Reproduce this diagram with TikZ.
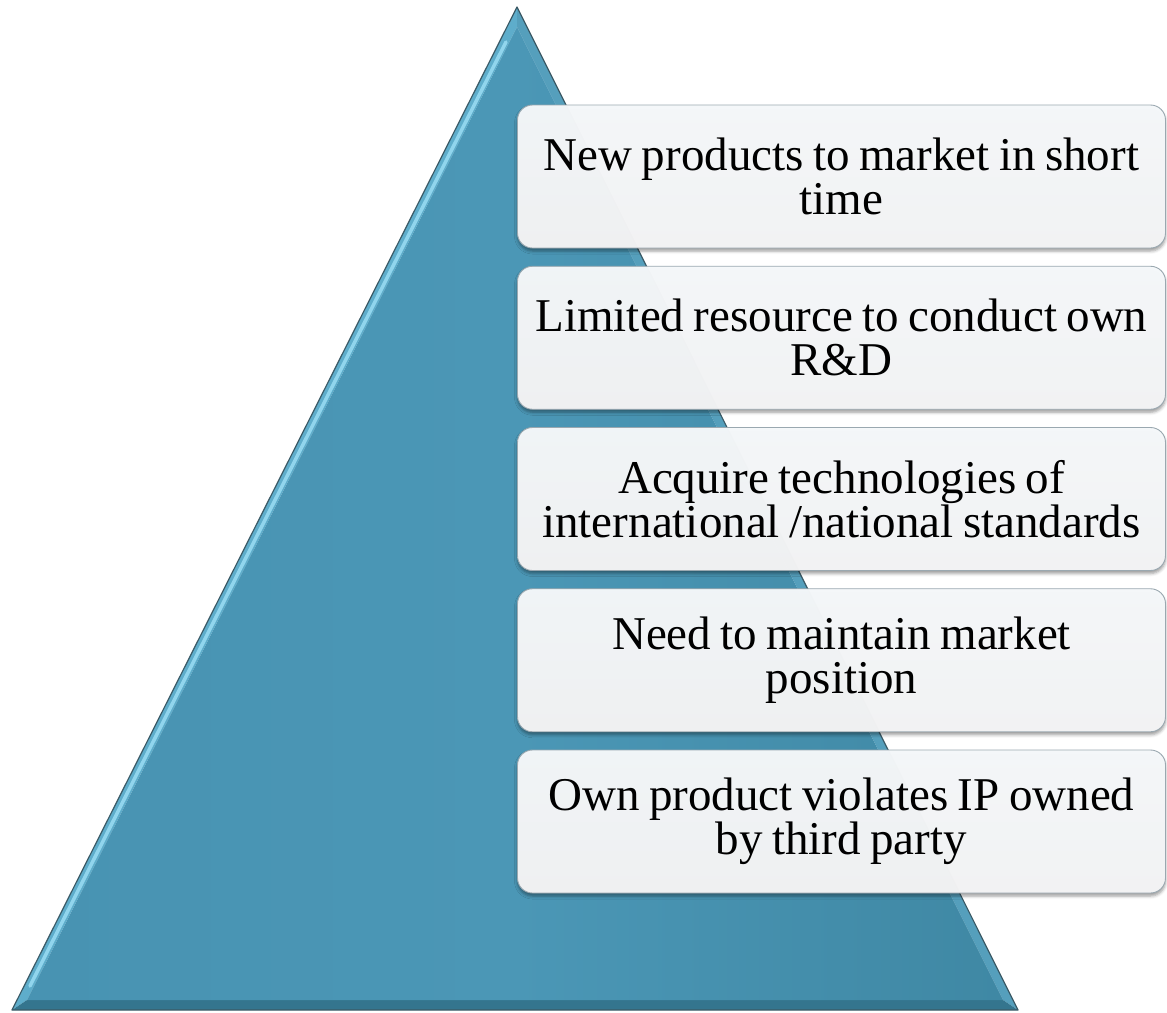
\documentclass[tikz,border=0pt]{standalone}
\usepackage{fontspec}
\setmainfont{Liberation Serif}
\usetikzlibrary{shadows.blur}

\definecolor{pyrface}{HTML}{4B97B6}
\definecolor{pyrfaceL}{HTML}{4893B2}
\definecolor{pyrfaceR}{HTML}{3F88A4}
\definecolor{pyrleft}{HTML}{5EADCB}
\definecolor{pyrright}{HTML}{559FBC}
\definecolor{pyrbase}{HTML}{34758E}
\definecolor{pyrline}{HTML}{3B5A66}
\definecolor{pyrshine}{HTML}{9ADDF3}
\definecolor{boxtop}{HTML}{F5F8FA}
\definecolor{boxbot}{HTML}{F4F4F5}
\definecolor{boxedge}{HTML}{9AA8B0}

\newcommand\reasonfont{\fontsize{47}{44}\selectfont\spaceskip=0.2em\relax}

\begin{document}
\begin{tikzpicture}[x=1pt,y=1pt,
  reason/.style={draw=boxedge, line width=0.9pt, rounded corners=15pt,
    minimum width=648pt, minimum height=143pt, inner sep=0pt,
    top color=boxtop, bottom color=boxbot, fill opacity=0.975, text opacity=1,
    align=center, font=\reasonfont,
    blur shadow={shadow xshift=0pt, shadow yshift=-3pt,
      shadow blur radius=3pt, shadow opacity=40}}]
\useasboundingbox (0,0) rectangle (1167,-1012);

% pyramid: outer corners and bevelled inner face
\coordinate (O1) at (517,-7);
\coordinate (O2) at (12,-1010);
\coordinate (O3) at (1018,-1010);
\coordinate (I1) at (517,-27);
\coordinate (I2) at (27,-1000);
\coordinate (I3) at (1003,-1000);

\fill[pyrleft]  (O1) -- (O2) -- (I2) -- (I1) -- cycle;
\fill[pyrright] (O1) -- (O3) -- (I3) -- (I1) -- cycle;
\fill[pyrbase]  (O2) -- (O3) -- (I3) -- (I2) -- cycle;
\shade[left color=pyrfaceL, right color=pyrfaceR, middle color=pyrface]
  (I1) -- (I2) -- (I3) -- cycle;
\draw[pyrshine, line width=3.5pt, line cap=round, opacity=0.85]
  (506,-42) -- (30,-986);
\draw[pyrline, line width=1.2pt, line join=round] (O1) -- (O2) -- (O3) -- cycle;

% reason boxes
\node[reason] (r1) at (841.5,-176.5) {New products to market in short\\time};
\node[reason] (r2) at (841.5,-337.75) {Limited resource to conduct own\\R\&D};
\node[reason] (r3) at (841.5,-499) {Acquire technologies of\\international /national standards};
\node[reason] (r4) at (841.5,-660.25) {Need to maintain market\\position};
\node[reason] (r5) at (841.5,-821.5) {Own product violates IP owned\\by third party};
\end{tikzpicture}
\end{document}
